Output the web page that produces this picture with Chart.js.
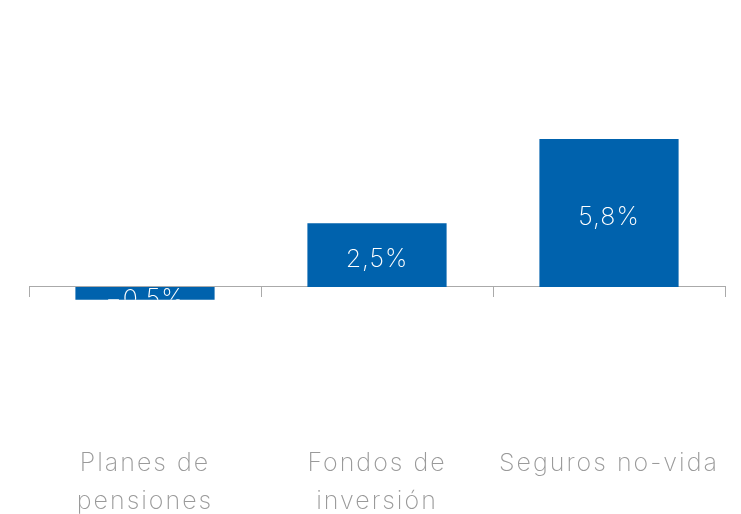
<!DOCTYPE html>
<html><head><meta charset="utf-8">
<script src="https://cdn.jsdelivr.net/npm/chart.js@4.4.1/dist/chart.umd.min.js"></script>
<style>html,body{margin:0;padding:0;background:#fff}#wrap{width:741px;height:514px}</style>
</head><body><div id="wrap"><canvas id="c" width="741" height="514"></canvas></div>
<script>
const categories = [["Planes de","pensiones"],["Fondos de","inversión"],["Seguros no-vida"]];
const values = [-0.5, 2.5, 5.8];
const valueLabels = ["-0,5%","2,5%","5,8%"];

const FONT = "Inter, 'Open Sans', sans-serif";

const spacing = {
  id:'spacing',
  beforeDraw(chart){ chart.ctx.letterSpacing = '2px'; }
};

const barLabels = {
  id:'barLabels',
  afterDatasetsDraw(chart){
    const ctx = chart.ctx;
    const meta = chart.getDatasetMeta(0);
    meta.data.forEach((bar,i)=>{
      const p = bar.getProps(['x','y','base','width'],true);
      const top = Math.min(p.y,p.base), bot = Math.max(p.y,p.base);
      ctx.save();
      ctx.beginPath();
      ctx.rect(p.x-p.width/2, top, p.width, bot-top);
      ctx.clip();
      ctx.letterSpacing = '1px';
      ctx.fillStyle = '#ffffff';
      ctx.font = "200 25px " + FONT;
      ctx.textAlign = 'center';
      ctx.textBaseline = 'middle';
      ctx.fillText(valueLabels[i].replace('-','\u2212'), p.x, (top+bot)/2 + (values[i]<0 ? 6 : 4));
      ctx.restore();
    });
  }
};

new Chart(document.getElementById('c'), {
  type:'bar',
  data:{
    labels: categories,
    datasets:[{data: values, backgroundColor:'#0062ad', borderWidth:0,
      barPercentage:0.6, categoryPercentage:1.0}]
  },
  options:{
    responsive:false, animation:false,
    layout:{padding:{left:29,right:16,top:0,bottom:0}},
    plugins:{legend:{display:false},tooltip:{enabled:false}},
    scales:{
      x:{
        position:'bottom',
        grid:{display:false, drawTicks:false}, border:{display:false},
        afterFit(s){ s.height = 125; s.paddingLeft = 0; s.paddingRight = 0; },
        ticks:{color:'#9a9a9a', padding:55, maxRotation:0, autoSkip:false,
          font:{family:FONT, size:25, weight:200, lineHeight:1.52}}
      },
      x2:{
        type:'category', labels: categories, position:{y:0},
        grid:{display:true, offset:true, drawOnChartArea:false, drawTicks:true, tickLength:10, color:'#aaaaaa', lineWidth:1},
        border:{display:true, color:'#aaaaaa', width:1},
        afterFit(s){ s.paddingLeft = 0; s.paddingRight = 0; },
        ticks:{display:false}
      },
      y:{
        min:-4, max:11.25, display:false
      }
    }
  },
  plugins:[spacing, barLabels]
});
</script></body></html>
